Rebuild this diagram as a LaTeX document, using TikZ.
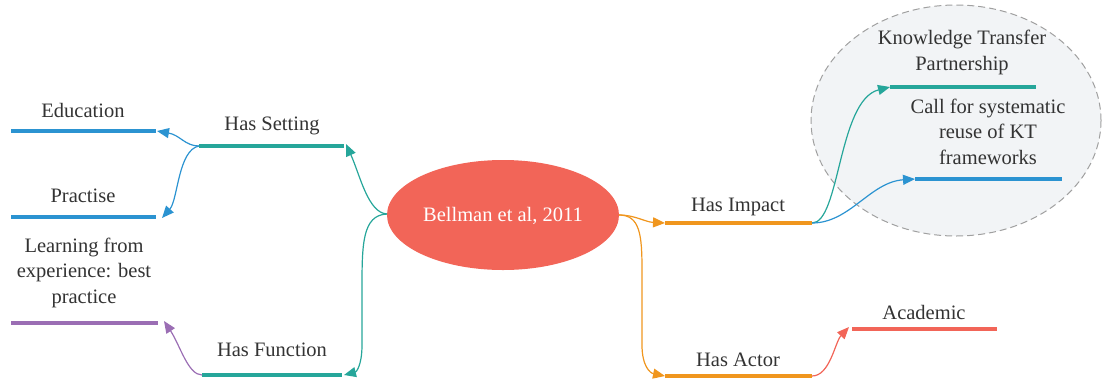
\documentclass[tikz,border=0pt]{standalone}
\usepackage{fontspec}
\setmainfont{Liberation Serif}
\usetikzlibrary{arrows.meta,shapes.geometric}
\definecolor{cteal}{RGB}{38,166,154}
\definecolor{cblue}{RGB}{43,147,209}
\definecolor{cpurple}{RGB}{155,110,180}
\definecolor{corange}{RGB}{240,150,30}
\definecolor{cred}{RGB}{242,101,88}
\definecolor{ctext}{RGB}{51,51,51}
\definecolor{cbubble}{RGB}{242,244,246}
\definecolor{cdash}{RGB}{160,160,160}
\begin{document}
\begin{tikzpicture}[x=1pt,y=-1pt,
  lbl/.style={font=\fontsize{20.5}{25.5}\selectfont, text=ctext, inner sep=0pt, anchor=base, align=center},
  bar/.style={line width=4.5pt},
  conn/.style={line width=1.2pt, -{Triangle[length=12pt,width=10pt]}},
]
\useasboundingbox (0,0) rectangle (1103,381);
% bubble
\node[ellipse, draw=cdash, dash pattern=on 7pt off 4pt, line width=1pt, fill=cbubble, minimum width=290pt, minimum height=231pt, inner sep=0pt] (bubble) at (956,120.5) {};
% center
\node[ellipse, fill=cred, minimum width=232pt, minimum height=110pt, inner sep=0pt] (center) at (503,215) {};
\node[lbl, text=white] (ctr) at (503,221) {Bellman et al, 2011};
\coordinate (cw) at (387,214);
\coordinate (ce) at (619,215);
% bars
\coordinate (hsL) at (199,146); \coordinate (hsR) at (344,146);
\coordinate (edL) at (11,131); \coordinate (edR) at (156,131);
\coordinate (prL) at (11,217); \coordinate (prR) at (156,217);
\coordinate (lfL) at (11,323); \coordinate (lfR) at (158,323);
\coordinate (hfL) at (202,375); \coordinate (hfR) at (342,375);
\coordinate (hiL) at (665,223); \coordinate (hiR) at (812,223);
\coordinate (haL) at (665,376); \coordinate (haR) at (812,376);
\coordinate (acL) at (852,329); \coordinate (acR) at (997,329);
\coordinate (ktL) at (890,87); \coordinate (ktR) at (1036,87);
\coordinate (cfL) at (915,179); \coordinate (cfR) at (1062,179);
\draw[bar, cteal] (hsL) -- (hsR);
\draw[bar, cblue] (edL) -- (edR);
\draw[bar, cblue] (prL) -- (prR);
\draw[bar, cpurple] (lfL) -- (lfR);
\draw[bar, cteal] (hfL) -- (hfR);
\draw[bar, corange] (hiL) -- (hiR);
\draw[bar, corange] (haL) -- (haR);
\draw[bar, cred] (acL) -- (acR);
\draw[bar, cteal] (ktL) -- (ktR);
\draw[bar, cblue] (cfL) -- (cfR);
% labels (base = baseline of last line)
\node[lbl] (hs) at (272,130) {Has Setting};
\node[lbl] (ed) at (83,117) {Education};
\node[lbl] (pr) at (83,202) {Practise};
\node[lbl] (lf) at (84,303) {Learning from\\experience: best\\practice};
\node[lbl] (hf) at (272,356) {Has Function};
\node[lbl] (hi) at (738,211) {Has Impact};
\node[lbl] (ha) at (738,366) {Has Actor};
\node[lbl] (ac) at (924,319) {Academic};
\node[lbl] (kt) at (962,70) {Knowledge Transfer\\Partnership};
\node[lbl] (cf) at (988,164) {Call for systematic\\reuse of KT\\frameworks};
% connectors
\draw[conn, cteal] (cw) .. controls (368,213) and (360,175) .. ([xshift=2pt,yshift=2pt]hsR);
\draw[conn, cteal] (cw) .. controls (362,215) and (362,245) .. (362,290) -- (362,345) .. controls (362,366) and (356,372) .. ([xshift=2pt]hfR);
\draw[conn, cblue] (hsL) .. controls (185,146) and (180,135) .. ([xshift=1pt]edR);
\draw[conn, cblue] (hsL) .. controls (178,150) and (178,200) .. ([xshift=6pt,yshift=-1pt]prR);
\draw[conn, cpurple] (hfL) .. controls (188,375) and (180,345) .. ([xshift=6pt,yshift=2pt]lfR);
\draw[conn, corange] (ce) .. controls (635,215) and (645,222) .. (hiL);
\draw[conn, corange] (ce) .. controls (640,215) and (642,235) .. (642,270) -- (642,345) .. controls (642,366) and (650,373) .. (haL);
\draw[conn, cteal] (hiR) .. controls (840,223) and (838,100) .. (ktL);
\draw[conn, cblue] (hiR) .. controls (850,223) and (870,182) .. (cfL);
\draw[conn, cred] (haR) .. controls (830,376) and (835,342) .. ([xshift=-3pt,yshift=2pt]acL);
\end{tikzpicture}
\end{document}
